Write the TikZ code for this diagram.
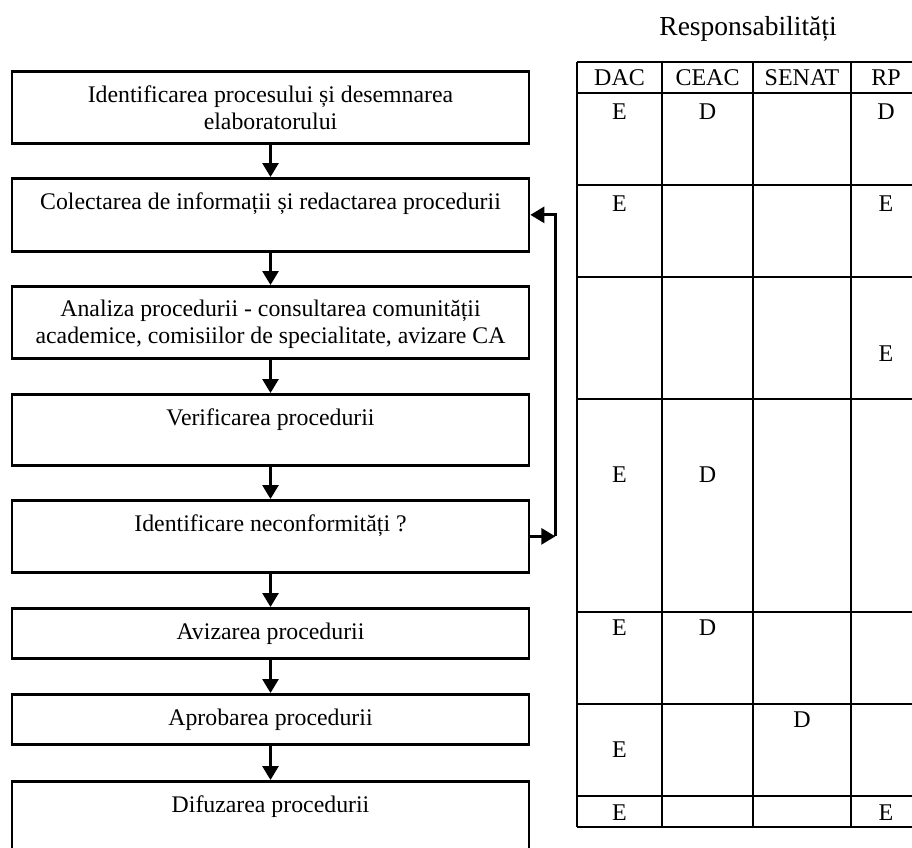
\documentclass[tikz,border=0pt]{standalone}
\usepackage{fontspec}
\setmainfont{Liberation Serif}
\usetikzlibrary{arrows.meta}
\usetikzlibrary{calc}

\tikzset{
  stepbox/.style={draw, line width=2.7pt, minimum width=517pt, inner sep=0pt, anchor=north},
  steptext/.style={anchor=base, align=center, inner sep=0pt, font=\fontsize{23.8}{27}\selectfont},
  flow/.style={line width=2.8pt, -{Triangle[length=14pt, width=16pt]}},
  tableline/.style={line width=1.7pt},
  cell/.style={inner sep=0pt, font=\fontsize{24}{28}\selectfont}
}

\begin{document}
\begin{tikzpicture}[x=1pt, y=-1pt]
  \useasboundingbox (0,0) rectangle (912,847);

  \node[stepbox, minimum height=72pt] (s1) at (270.5,70) {};
  \node[stepbox, minimum height=73pt] (s2) at (270.5,177) {};
  \node[stepbox, minimum height=72pt] (s3) at (270.5,285) {};
  \node[stepbox, minimum height=71pt] (s4) at (270.5,393) {};
  \node[stepbox, minimum height=72pt] (s5) at (270.5,499) {};
  \node[stepbox, minimum height=50pt] (s6) at (270.5,607) {};
  \node[stepbox, minimum height=50pt] (s7) at (270.5,693) {};
  \node[stepbox, minimum height=72pt] (s8) at (270.5,780) {};

  % la textele pe doua randuri baza este ultimul rand
  \node[steptext] (t1) at ($(s1.north)+(0,59)$) {Identificarea procesului și desemnarea\\elaboratorului};
  \node[steptext] (t2) at ($(s2.north)+(0,32)$) {Colectarea de informații și redactarea procedurii};
  \node[steptext] (t3) at ($(s3.north)+(0,58)$) {Analiza procedurii - consultarea comunității\\academice, comisiilor de specialitate, avizare CA};
  \node[steptext] (t4) at ($(s4.north)+(0,32)$) {Verificarea procedurii};
  \node[steptext] (t5) at ($(s5.north)+(0,32)$) {Identificare neconformități ?};
  \node[steptext] (t6) at ($(s6.north)+(0,32)$) {Avizarea procedurii};
  \node[steptext] (t7) at ($(s7.north)+(0,32)$) {Aprobarea procedurii};
  \node[steptext] (t8) at ($(s8.north)+(0,32)$) {Difuzarea procedurii};

  \draw[flow] (s1.south) -- (s2.north);
  \draw[flow] (s2.south) -- (s3.north);
  \draw[flow] (s3.south) -- (s4.north);
  \draw[flow] (s4.south) -- (s5.north);
  \draw[flow] (s5.south) -- (s6.north);
  \draw[flow] (s6.south) -- (s7.north);
  \draw[flow] (s7.south) -- (s8.north);

  % intoarcere la redactare
  \coordinate (back) at ($(s5.east)+(25,0)$);
  \draw[flow] (s5.east) -- (back);
  \draw[flow] (back) |- (s2.east);

  \node[anchor=base, font=\fontsize{27.5}{32}\selectfont] (resp) at (748,35) {Responsabilități};

  \foreach \y in {62,93,185,277,399,612,704,796,827}
    \draw[tableline] (577,\y) -- (920,\y);
  \foreach \x in {577,662,753,851}
    \draw[tableline] (\x,62) -- (\x,827);

  \node[cell] (dac) at (619.5,77.5) {DAC};
  \node[cell] (ceac) at (707.5,77.5) {CEAC};
  \node[cell] (senat) at (802,77.5) {SENAT};
  \node[cell] (rp) at (886,77.5) {RP};

  \node[cell] (e1) at (619.5,111.5) {E};
  \node[cell] (d1) at (707.5,111.5) {D};
  \node[cell] (r1) at (886,111.5) {D};
  \node[cell] (e2) at (619.5,203.5) {E};
  \node[cell] (r2) at (886,203.5) {E};
  \node[cell] (r3) at (886,354) {E};
  \node[cell] (e4) at (619.5,475) {E};
  \node[cell] (d4) at (707.5,475) {D};
  \node[cell] (e5) at (619.5,628) {E};
  \node[cell] (d5) at (707.5,628) {D};
  \node[cell] (s6d) at (802,720) {D};
  \node[cell] (e6) at (619.5,750) {E};
  \node[cell] (e7) at (619.5,813) {E};
  \node[cell] (r7) at (886,813) {E};
\end{tikzpicture}
\end{document}
